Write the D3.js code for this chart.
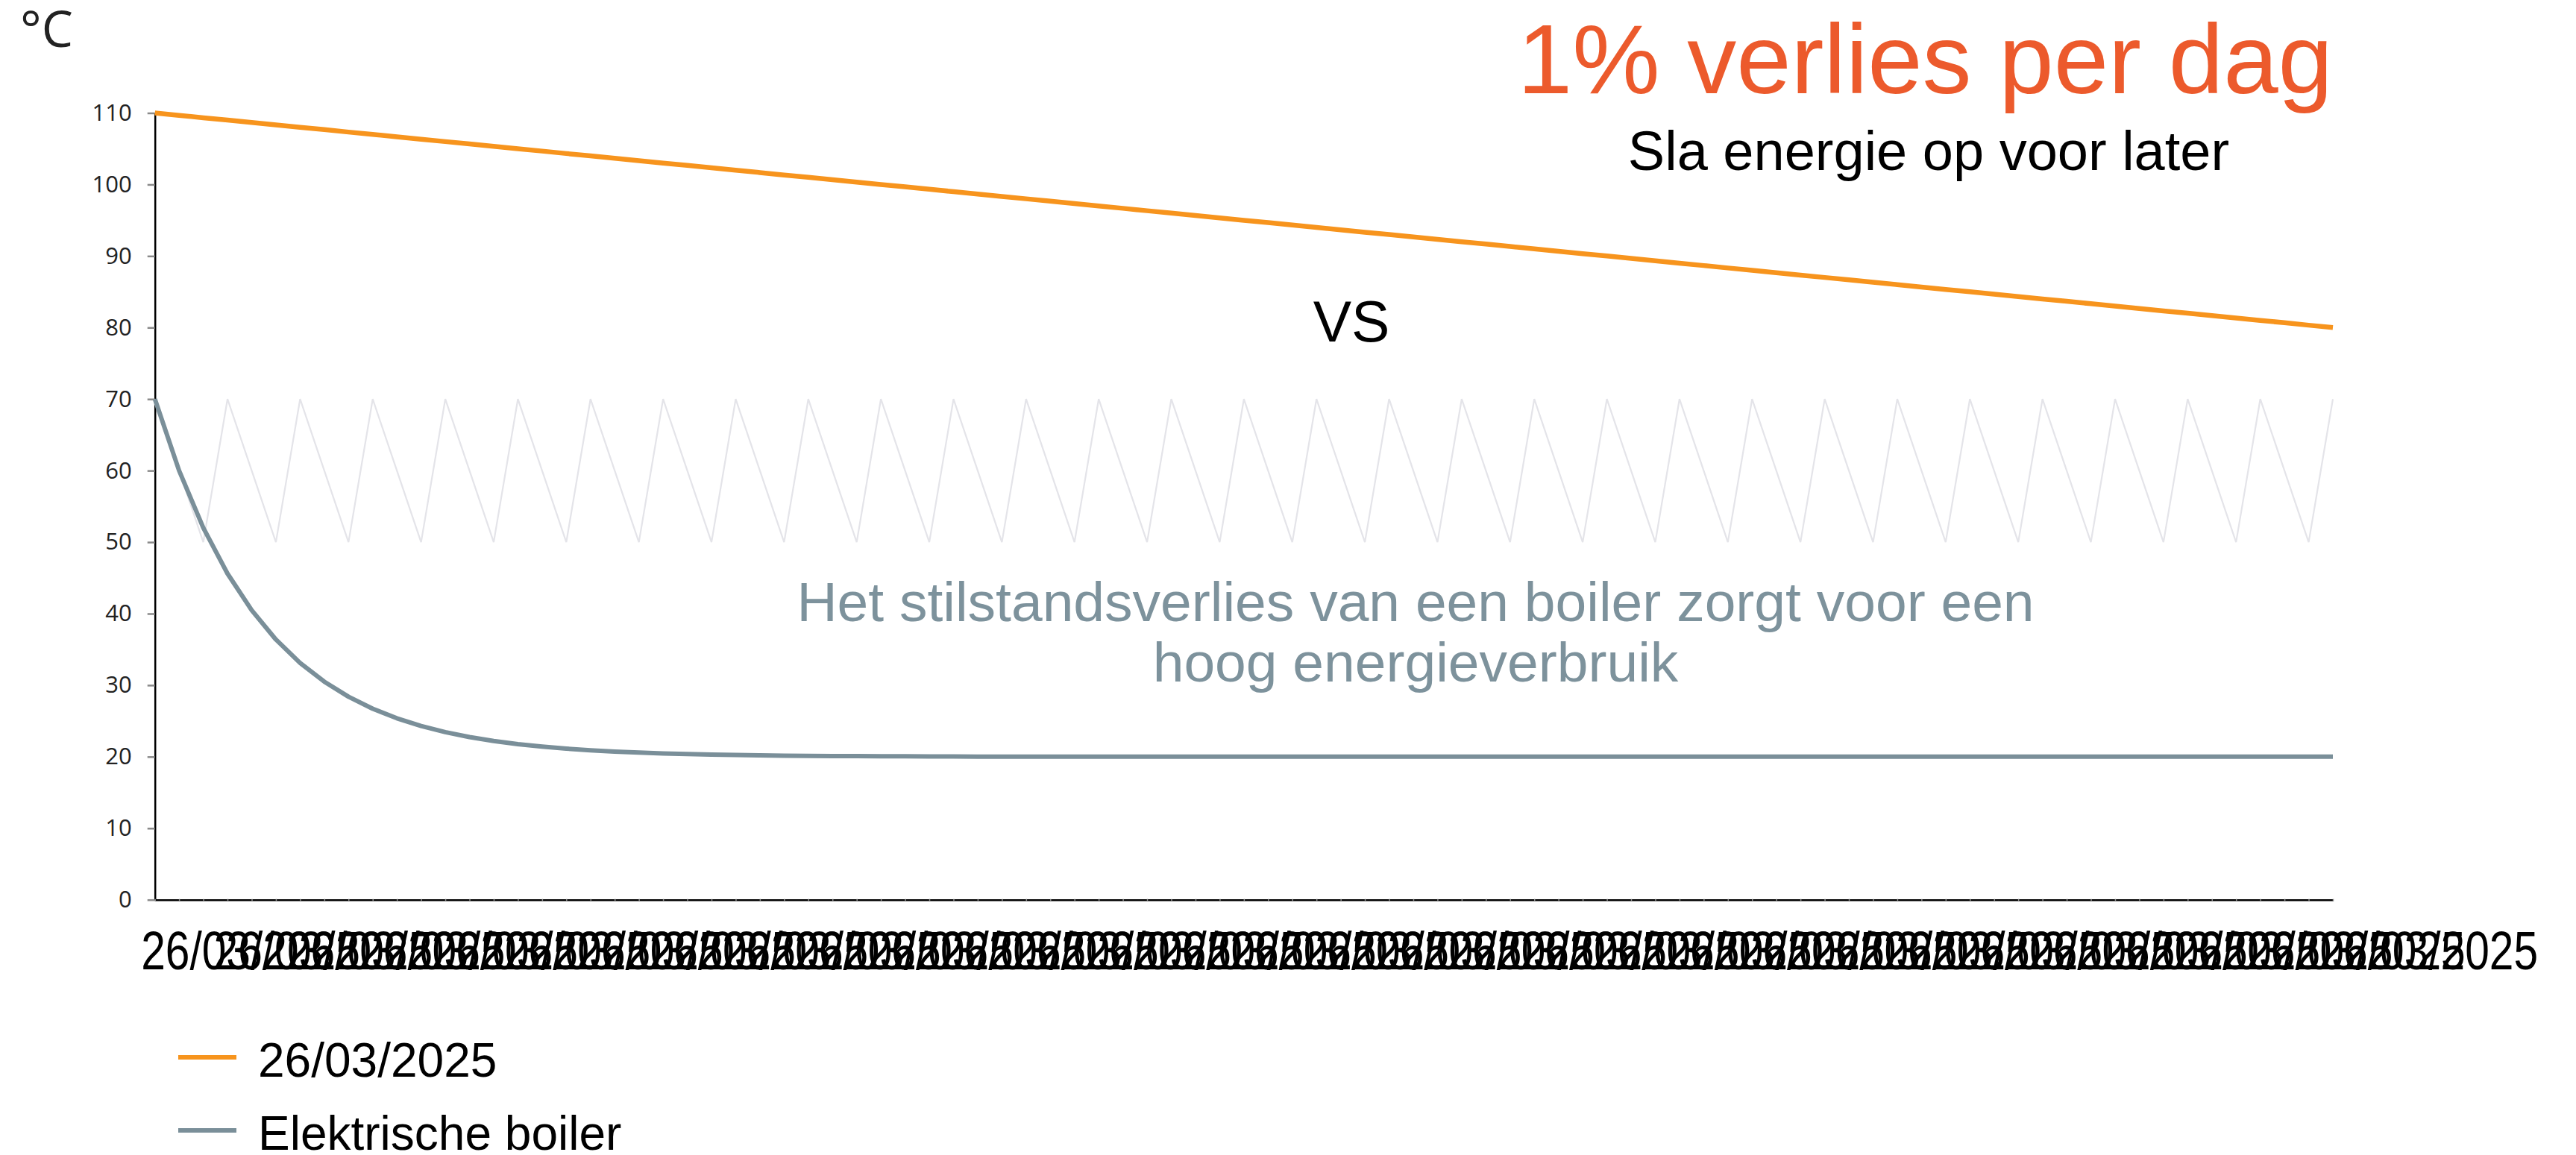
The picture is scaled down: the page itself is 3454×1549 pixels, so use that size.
<!DOCTYPE html>
<html>
<head>
<meta charset="utf-8">
<script src="https://cdn.jsdelivr.net/npm/d3@7"></script>
<style>
  body { margin: 0; background: #ffffff; }
  svg { display: block; }
</style>
</head>
<body>
<svg id="chart" width="3454" height="1549"></svg>
<script>
// ---------- DATA ----------
const days = [
  0,1,2,3,4,5,6,7,8,9,10,11,12,13,14,15,16,17,18,19,
  20,21,22,23,24,25,26,27,28,29,30,31,32,33,34,35,36,37,38,39,
  40,41,42,43,44,45,46,47,48,49,50,51,52,53,54,55,56,57,58,59,
  60,61,62,63,64,65,66,67,68,69,70,71,72,73,74,75,76,77,78,79,
  80,81,82,83,84,85,86,87,88,89,90
];

const seriesNames = ["26/03/2025", "Elektrische boiler"];

// orange series: heat battery, slow loss
const seriesBattery = [
  110,109.67,109.33,109,108.67,108.33,108,107.67,107.33,107,
  106.67,106.33,106,105.67,105.33,105,104.67,104.33,104,103.67,
  103.33,103,102.67,102.33,102,101.67,101.33,101,100.67,100.33,
  100,99.67,99.33,99,98.67,98.33,98,97.67,97.33,97,
  96.67,96.33,96,95.67,95.33,95,94.67,94.33,94,93.67,
  93.33,93,92.67,92.33,92,91.67,91.33,91,90.67,90.33,
  90,89.67,89.33,89,88.67,88.33,88,87.67,87.33,87,
  86.67,86.33,86,85.67,85.33,85,84.67,84.33,84,83.67,
  83.33,83,82.67,82.33,82,81.67,81.33,81,80.67,80.33,
  80
];

// grey series: electric boiler cooling down
const seriesBoiler = [
  70,60,52,45.6,40.48,36.38,33.11,30.49,28.39,26.71,
  25.37,24.29,23.44,22.75,22.2,21.76,21.41,21.13,20.9,20.72,
  20.58,20.46,20.37,20.3,20.24,20.19,20.15,20.12,20.1,20.08,
  20.06,20.05,20.04,20.03,20.02,20.02,20.01,20.01,20.01,20.01,
  20,20,20,20,20,20,20,20,20,20,
  20,20,20,20,20,20,20,20,20,20,
  20,20,20,20,20,20,20,20,20,20,
  20,20,20,20,20,20,20,20,20,20,
  20,20,20,20,20,20,20,20,20,20,
  20
];

// light grey series: boiler reheating cycle
const seriesCycle = [
  70,60,50,70,60,50,70,60,50,70,60,50,70,60,50,70,60,50,70,60,
  50,70,60,50,70,60,50,70,60,50,70,60,50,70,60,50,70,60,50,70,
  60,50,70,60,50,70,60,50,70,60,50,70,60,50,70,60,50,70,60,50,
  70,60,50,70,60,50,70,60,50,70,60,50,70,60,50,70,60,50,70,60,
  50,70,60,50,70,60,50,70,60,50,70
];

const yTicks = [0,10,20,30,40,50,60,70,80,90,100,110];

const labelDays = [0,3,6,9,12,15,18,21,24,27,30,33,36,39,42,45,48,51,54,57,60,63,66,69,72,75,78,81,84,87,90];
const xTickLabels = [
  "26/03/2025","26/03/2025","26/03/2025","26/03/2025","26/03/2025","26/03/2025",
  "26/03/2025","26/03/2025","26/03/2025","26/03/2025","26/03/2025","26/03/2025",
  "26/03/2025","26/03/2025","26/03/2025","26/03/2025","26/03/2025","26/03/2025",
  "26/03/2025","26/03/2025","26/03/2025","26/03/2025","26/03/2025","26/03/2025",
  "26/03/2025","26/03/2025","26/03/2025","26/03/2025","26/03/2025","26/03/2025",
  "26/03/2025"
];

const unitLabel = "°C";
const titleText = "1% verlies per dag";
const subtitleText = "Sla energie op voor later";
const vsText = "VS";
const noteLines = ["Het stilstandsverlies van een boiler zorgt voor een", "hoog energieverbruik"];

// ---------- CHART ----------
(function () {
const svg = d3.select("#chart");
const plotLeft = 207.7, plotRight = 3128, plotTop = 151.5, plotBottom = 1206.7;

const x = d3.scalePoint().domain(days).range([plotLeft, plotRight]);
const y = d3.scaleLinear().domain([0, 110]).range([plotBottom, plotTop]);

const sans = "'Liberation Sans', Arial, sans-serif";
const open = "'Open Sans', 'Noto Sans', sans-serif";

// y axis
const gy = svg.append("g").attr("transform", `translate(${plotLeft},0)`)
  .call(d3.axisLeft(y).tickValues(yTicks).tickSize(10).tickSizeOuter(0).tickPadding(21));
gy.select(".domain").attr("stroke", "#000").attr("stroke-width", 2.5);
gy.selectAll(".tick line").attr("stroke", "#8a8a8a").attr("stroke-width", 2.5);
gy.selectAll(".tick text").attr("fill", "#222").style("font-family", open).style("font-size", "31px");

// x axis (ticks)
const gx = svg.append("g").attr("transform", `translate(0,${plotBottom})`)
  .call(d3.axisBottom(x).tickValues(days).tickSize(2).tickSizeOuter(0).tickFormat(""));
gx.select(".domain").attr("stroke", "#000").attr("stroke-width", 2.5);
gx.selectAll(".tick line").attr("stroke", "#888").attr("stroke-width", 1.5).attr("y1", -1);

// x axis labels (overlapping, as in original)
const gxl = svg.append("g").attr("transform", `translate(0,${plotBottom})`)
  .call(d3.axisBottom(x).tickValues(labelDays).tickSize(0).tickFormat((d, i) => xTickLabels[i]));
gxl.select(".domain").remove();
gxl.selectAll(".tick text")
  .attr("y", null).attr("dy", null)
  .attr("text-anchor", "start")
  .attr("transform", "translate(-19,93) scale(0.815,1)")
  .attr("fill", "#000")
  .style("font-family", sans).style("font-size", "72px");

// lines
const line = d3.line().x((d, i) => x(days[i])).y(d => y(d));

svg.append("path").datum(seriesCycle)
  .attr("d", line).attr("fill", "none")
  .attr("stroke", "#e4e4e9").attr("stroke-width", 2.2);

svg.append("path").datum(seriesBattery)
  .attr("d", line).attr("fill", "none")
  .attr("stroke", "#f7941d").attr("stroke-width", 6.5);

svg.append("path").datum(seriesBoiler)
  .attr("d", line).attr("fill", "none")
  .attr("stroke", "#7a8f99").attr("stroke-width", 6)
  .attr("stroke-linejoin", "round");

// unit label
svg.append("text").attr("x", 27).attr("y", 63)
  .attr("fill", "#222").style("font-family", open).style("font-size", "67px")
  .text(unitLabel);

// title & subtitle
svg.append("text").attr("x", 3128).attr("y", 125).attr("text-anchor", "end")
  .attr("fill", "#ec5a2c").style("font-family", sans).style("font-size", "132px")
  .text(titleText);
svg.append("text").attr("x", 2586).attr("y", 228).attr("text-anchor", "middle")
  .attr("fill", "#000").style("font-family", sans).style("font-size", "74px")
  .text(subtitleText);

// VS
svg.append("text").attr("x", 1812).attr("y", 458).attr("text-anchor", "middle")
  .attr("fill", "#000").style("font-family", sans).style("font-size", "77px")
  .text(vsText);

// note
svg.append("text").attr("text-anchor", "middle")
  .attr("fill", "#7d929c").style("font-family", sans).style("font-size", "75px")
  .selectAll("tspan").data(noteLines).join("tspan")
  .attr("x", 1898).attr("y", (d, i) => 833 + i * 81)
  .text(d => d);

// legend
const legendColors = ["#f7941d", "#7a8f99"];
const lg = svg.append("g");
seriesNames.forEach((name, i) => {
  const ly = 1418 + i * 98;
  lg.append("line").attr("x1", 239).attr("x2", 317).attr("y1", ly).attr("y2", ly)
    .attr("stroke", legendColors[i]).attr("stroke-width", 6);
  lg.append("text").attr("x", 346).attr("y", ly + 26)
    .attr("fill", "#000").style("font-family", sans).style("font-size", "64px")
    .text(name);
});
})();
</script>
</body>
</html>
